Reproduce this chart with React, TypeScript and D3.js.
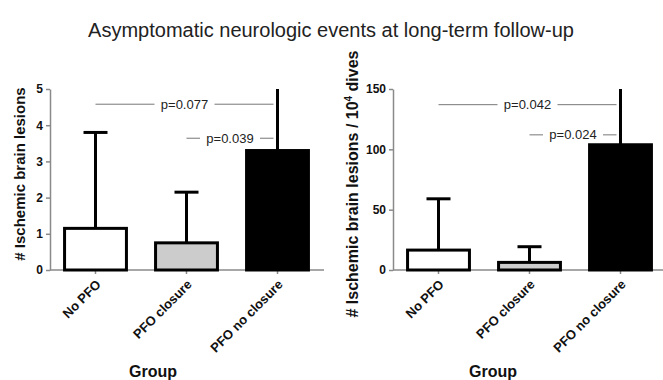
import React, { useEffect, useRef } from 'react';
import { axisLeft, format, scaleBand, scaleLinear, select } from 'd3';

const categories = ['No PFO', 'PFO closure', 'PFO no closure'];
const barFills = ['#ffffff', '#cccccc', '#000000'];

// left panel: lesions
const lesionMeans = [1.15, 0.75, 3.3];
const lesionUpper = [3.8, 2.15, 5.6];
const lesionTicks = [0, 1, 2, 3, 4, 5];
const lesionPValues = [
  { from: 0, to: 2, y: 4.58, label: 'p=0.077' },
  { from: 1, to: 2, y: 3.64, label: 'p=0.039' },
];

// right panel: lesions per 10^4 dives
const rateMeans = [16.5, 6.3, 103.8];
const rateUpper = [59, 19.3, 160];
const rateTicks = [0, 50, 100, 150];
const ratePValues = [
  { from: 0, to: 2, y: 137, label: 'p=0.042' },
  { from: 1, to: 2, y: 112, label: 'p=0.024' },
];

const font = '"Liberation Sans", Arial, sans-serif';
const axisColor = '#8a8a8a';

const drawPanel = (svg, opts) => {
  const {
    left, right, axisEnd, means, upper, ticks, pValues, yLabel, labelX, labelY, labelSize, groupX,
  } = opts;
  const top = 89;
  const bottom = 270;
  const max = ticks[ticks.length - 1];

  const x = scaleBand()
    .domain(categories)
    .range([left, right])
    .paddingInner(0.32)
    .paddingOuter(0.16);
  const y = scaleLinear().domain([0, max]).range([bottom, top]);

  const g = svg.append('g');

  // y axis
  const yAxis = g.append('g')
    .attr('transform', `translate(${left},0)`)
    .call(axisLeft(y).tickValues(ticks).tickFormat(format('d'))
      .tickSize(4).tickPadding(3).tickSizeOuter(0));
  yAxis.select('.domain').attr('stroke', axisColor).attr('stroke-width', 1.5);
  yAxis.selectAll('.tick line').attr('stroke', axisColor).attr('stroke-width', 1.5);
  yAxis.selectAll('.tick text')
    .attr('fill', '#111')
    .style('font', `bold 12px ${font}`);

  // x axis
  g.append('line')
    .attr('x1', left).attr('x2', axisEnd)
    .attr('y1', bottom).attr('y2', bottom)
    .attr('stroke', axisColor).attr('stroke-width', 1.5);
  g.selectAll('.xtick')
    .data(categories)
    .enter()
    .append('line')
    .attr('x1', (d) => x(d) + x.bandwidth() / 2)
    .attr('x2', (d) => x(d) + x.bandwidth() / 2)
    .attr('y1', bottom)
    .attr('y2', bottom + 4)
    .attr('stroke', axisColor)
    .attr('stroke-width', 1.5);
  g.selectAll('.xlabel')
    .data(categories)
    .enter()
    .append('text')
    .attr('transform', (d) => `translate(${x(d) + x.bandwidth() / 2 + 3},${bottom + 12})rotate(-45)`)
    .attr('text-anchor', 'end')
    .attr('dy', '0.35em')
    .attr('fill', '#111')
    .style('font', `bold 13px ${font}`)
    .text((d) => d);

  // bars
  g.selectAll('.bar')
    .data(categories)
    .enter()
    .append('rect')
    .attr('x', (d) => x(d))
    .attr('y', (d, i) => y(means[i]))
    .attr('width', x.bandwidth())
    .attr('height', (d, i) => bottom - y(means[i]))
    .attr('fill', (d, i) => barFills[i])
    .attr('stroke', '#000')
    .attr('stroke-width', 3);

  // error bars (clipped at the axis max, no cap when clipped)
  categories.forEach((c, i) => {
    const cx = x(c) + x.bandwidth() / 2;
    const clipped = upper[i] > max;
    const yTop = y(Math.min(upper[i], max));
    g.append('line')
      .attr('x1', cx).attr('x2', cx)
      .attr('y1', y(means[i])).attr('y2', yTop)
      .attr('stroke', '#000').attr('stroke-width', 3);
    if (!clipped) {
      g.append('line')
        .attr('x1', cx - 12).attr('x2', cx + 12)
        .attr('y1', yTop).attr('y2', yTop)
        .attr('stroke', '#000').attr('stroke-width', 3);
    }
  });

  // p-value brackets
  pValues.forEach((p) => {
    const x1 = x(categories[p.from]) + x.bandwidth() / 2;
    const x2 = x(categories[p.to]) + x.bandwidth() / 2 - 4;
    const mid = (x1 + x2) / 2;
    const half = 30;
    const py = y(p.y);
    [[x1, mid - half], [mid + half, x2]].forEach(([a, b]) => {
      g.append('line')
        .attr('x1', a).attr('x2', b)
        .attr('y1', py).attr('y2', py)
        .attr('stroke', '#777').attr('stroke-width', 1);
    });
    g.append('text')
      .attr('x', mid)
      .attr('y', py)
      .attr('dy', '0.35em')
      .attr('text-anchor', 'middle')
      .attr('fill', '#222')
      .style('font', `13px ${font}`)
      .text(p.label);
  });

  // y label
  const yl = g.append('text')
    .attr('transform', `translate(${labelX},${labelY})rotate(-90)`)
    .attr('text-anchor', 'middle')
    .attr('dy', '0.35em')
    .attr('fill', '#111')
    .style('font', `bold ${labelSize}px ${font}`);
  yLabel(yl);

  // x label
  g.append('text')
    .attr('x', groupX)
    .attr('y', 377)
    .attr('text-anchor', 'middle')
    .attr('fill', '#111')
    .style('font', `bold 16px ${font}`)
    .text('Group');
};

const App = () => {
  const ref = useRef(null);

  useEffect(() => {
    const svg = select(ref.current);
    svg.selectAll('*').remove();

    svg.append('text')
      .attr('x', 331)
      .attr('y', 37)
      .attr('text-anchor', 'middle')
      .attr('fill', '#222')
      .style('font', `20px ${font}`)
      .text('Asymptomatic neurologic events at long-term follow-up');

    drawPanel(svg, {
      left: 50,
      right: 323,
      axisEnd: 324,
      means: lesionMeans,
      upper: lesionUpper,
      ticks: lesionTicks,
      pValues: lesionPValues,
      labelX: 20,
      labelY: 174,
      labelSize: 15,
      groupX: 153,
      yLabel: (t) => t.text('# Ischemic brain lesions'),
    });

    drawPanel(svg, {
      left: 393,
      right: 666,
      axisEnd: 663,
      means: rateMeans,
      upper: rateUpper,
      ticks: rateTicks,
      pValues: ratePValues,
      labelX: 352,
      labelY: 184,
      labelSize: 16,
      groupX: 493,
      yLabel: (t) => {
        t.append('tspan').text('# Ischemic brain lesions / 10');
        t.append('tspan').attr('dy', -6).style('font-size', '10px').text('4');
        t.append('tspan').attr('dy', 6).text(' dives');
      },
    });
  }, []);

  return (
    <svg
      ref={ref}
      width={663}
      height={380}
      style={{ position: 'absolute', left: 0, top: 0, background: '#fff' }}
    />
  );
};

export default App;
